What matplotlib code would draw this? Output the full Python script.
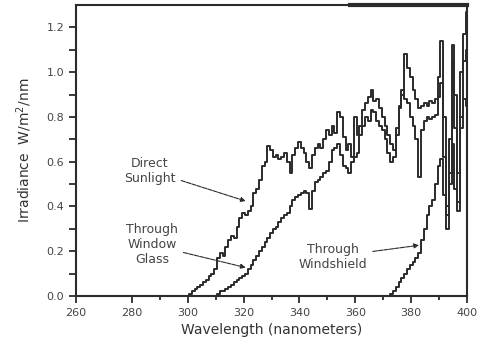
import matplotlib.pyplot as plt
import numpy as np

# wavelength (nm) and irradiance (W/m2/nm)
wl_sun = np.arange(300, 401)
irr_sun = [0.00, 0.01, 0.02, 0.03, 0.04, 0.05, 0.06, 0.07, 0.09, 0.10,
           0.12, 0.17, 0.19, 0.18, 0.22, 0.25, 0.27, 0.26, 0.31, 0.35,
           0.37, 0.36, 0.38, 0.40, 0.46, 0.48, 0.52, 0.58, 0.60, 0.67,
           0.65, 0.62, 0.63, 0.61, 0.62, 0.64, 0.60, 0.55, 0.63, 0.66,
           0.69, 0.66, 0.64, 0.60, 0.57, 0.63, 0.66, 0.68, 0.66, 0.70,
           0.74, 0.72, 0.76, 0.73, 0.82, 0.80, 0.71, 0.65, 0.68, 0.62,
           0.80, 0.72, 0.76, 0.83, 0.86, 0.89, 0.92, 0.87, 0.88, 0.84,
           0.80, 0.76, 0.72, 0.68, 0.65, 0.72, 0.84, 0.90, 1.08, 1.02,
           0.98, 0.92, 0.88, 0.84, 0.85, 0.86, 0.85, 0.87, 0.86, 0.88,
           0.98, 1.14, 0.80, 0.40, 0.70, 1.12, 0.90, 0.55, 1.00, 1.17,
           1.27]

wl_glass = np.arange(310, 401)
irr_glass = [0.00, 0.01, 0.02, 0.02, 0.03, 0.04, 0.05, 0.06, 0.07, 0.08,
             0.09, 0.10, 0.12, 0.14, 0.16, 0.18, 0.20, 0.22, 0.24, 0.26,
             0.28, 0.30, 0.31, 0.33, 0.35, 0.36, 0.37, 0.40, 0.43, 0.44,
             0.45, 0.46, 0.47, 0.46, 0.39, 0.47, 0.51, 0.52, 0.53, 0.55,
             0.56, 0.60, 0.65, 0.66, 0.68, 0.63, 0.58, 0.57, 0.55, 0.60,
             0.62, 0.64, 0.72, 0.76, 0.80, 0.78, 0.83, 0.82, 0.78, 0.76,
             0.74, 0.70, 0.64, 0.60, 0.62, 0.75, 0.85, 0.92, 0.88, 0.86,
             0.80, 0.76, 0.70, 0.53, 0.74, 0.78, 0.80, 0.79, 0.80, 0.81,
             0.89, 0.95, 0.62, 0.36, 0.55, 1.05, 0.75, 0.42, 0.80, 1.05,
             1.10]

wl_shield = np.arange(372, 401)
irr_shield = [0.00, 0.01, 0.02, 0.04, 0.06, 0.08, 0.10, 0.12, 0.14, 0.15,
              0.17, 0.19, 0.25, 0.30, 0.36, 0.40, 0.43, 0.50, 0.58, 0.61,
              0.45, 0.30, 0.50, 0.68, 0.48, 0.38, 0.75, 0.88, 0.85]

ink = '#2b2b2b'
plt.rcParams['font.family'] = 'DejaVu Sans'

fig = plt.figure(figsize=(4.78, 3.6), dpi=100)
ax = fig.add_axes([0.159, 0.178, 0.818, 0.808])

ax.plot(wl_sun, irr_sun, color=ink, lw=1.4, drawstyle='steps-mid')
ax.plot(wl_glass, irr_glass, color=ink, lw=1.4, drawstyle='steps-mid')
ax.plot(wl_shield, irr_shield, color=ink, lw=1.4, drawstyle='steps-mid')

ax.set_xlim(260, 400)
ax.set_ylim(0, 1.3)
ax.set_xticks(np.arange(260, 401, 20))
ax.set_xticks(np.arange(290, 400, 20), minor=True)
ax.set_yticks(np.arange(0, 1.21, 0.2))
ax.set_yticks(np.arange(0.1, 1.3, 0.2), minor=True)
ax.set_yticklabels(['0.0', '0.2', '0.4', '0.6', '0.8', '1.0', '1.2'])
ax.tick_params(which='both', direction='out', length=5, width=1.3,
               colors=ink, labelsize=8, labelcolor='#444444')
ax.tick_params(axis='x', which='minor', length=3)
for s in ax.spines.values():
    s.set_color(ink)
    s.set_linewidth(1.5)
ax.axhline(1.3, xmin=0.7, xmax=1.0, color=ink, lw=3, clip_on=False)

ax.set_xlabel('Wavelength (nanometers)', fontsize=10, color='#333333')
ax.set_ylabel('Irradiance  W/m$^2$/nm', fontsize=10, color='#333333',
              labelpad=9)

arr = dict(arrowstyle='-|>', color=ink, lw=0.8, mutation_scale=7,
           linestyle=(0, (4, 1)))
ax.annotate('Direct\nSunlight', xy=(321.7, 0.42), xytext=(286.5, 0.56),
            ha='center', va='center', fontsize=9, color='#444444',
            arrowprops=arr)
ax.annotate('Through\nWindow\nGlass', xy=(321.7, 0.124), xytext=(287.2, 0.228),
            ha='center', va='center', fontsize=9, color='#444444',
            arrowprops=arr)
ax.annotate('Through\nWindshield', xy=(383.8, 0.228), xytext=(352, 0.175),
            ha='center', va='center', fontsize=9, color='#444444',
            arrowprops=arr)

fig.savefig('out.png', dpi=100)
